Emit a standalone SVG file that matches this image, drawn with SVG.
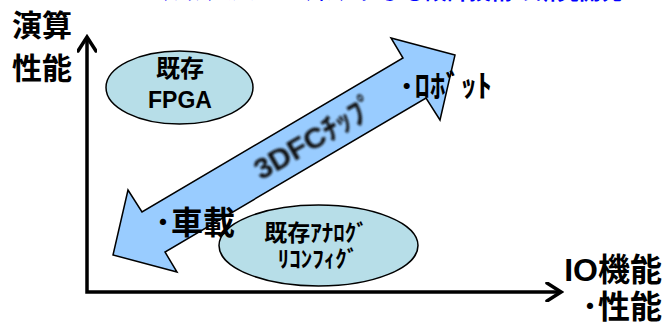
<svg xmlns="http://www.w3.org/2000/svg" width="671" height="325" viewBox="0 0 671 325">
  <defs>
    <style>
      .jp { font-family: "Liberation Sans", "Noto Sans CJK JP", sans-serif; font-weight: bold; fill: #000; }
      .ell { fill: #B7DEE8; stroke: #000; stroke-width: 1.5; }
      .axis { fill: none; stroke: #000; stroke-width: 3.5; }
      .big { fill: #99CCFF; stroke: #000; stroke-width: 1.5; stroke-linejoin: miter; }
    </style>
    <marker id="chev" viewBox="0 0 20 20" refX="17" refY="10" markerWidth="20" markerHeight="20" markerUnits="userSpaceOnUse" orient="auto-start-reverse">
      <path d="M3,1 L17,10 L3,19" fill="none" stroke="#000" stroke-width="3.5" stroke-linecap="round" stroke-linejoin="miter"/>
    </marker>
    <filter id="soft" x="-10%" y="-30%" width="120%" height="160%">
      <feGaussianBlur stdDeviation="0.8"/>
    </filter>
  </defs>

  <rect width="671" height="325" fill="#fff"/>

  <text class="jp" x="623" y="-1" text-anchor="end" font-size="22" style="fill:#0000FF">ﾌﾚｷｼﾌﾞﾙｺﾝﾋﾟｭｰﾃｨﾝｸﾞによる設計技術の研究開発</text>

  <g id="connectors">
    <path class="axis" d="M87,37 V292 H561" marker-start="url(#chev)" marker-end="url(#chev)"/>
  </g>

  <g id="axis-y-label">
    <text class="jp" x="12" y="36" font-size="30">演算</text>
    <text class="jp" x="12" y="79" font-size="30">性能</text>
  </g>

  <g id="axis-x-label">
    <text class="jp" x="662" y="281" font-size="32" text-anchor="end">IO機能</text>
    <text class="jp" x="662" y="318" font-size="32" text-anchor="end">･性能</text>
  </g>

  <g id="fpga">
    <ellipse class="ell" cx="179.5" cy="87.5" rx="73.5" ry="36.5"/>
    <text class="jp" x="180" y="77" font-size="24" text-anchor="middle">既存</text>
    <text class="jp" x="180" y="108" font-size="23" text-anchor="middle">FPGA</text>
  </g>

  <g id="analog">
    <ellipse class="ell" cx="318.5" cy="245.5" rx="99.5" ry="40.5"/>
    <text class="jp" x="316" y="241" font-size="23" text-anchor="middle">既存ｱﾅﾛｸﾞ</text>
    <text class="jp" x="318" y="267" font-size="23" text-anchor="middle">ﾘｺﾝﾌｨｸﾞ</text>
  </g>

  <g id="chip3dfc">
    <polygon class="big" points="455,55 391,38 403,58 142,212 128,190 113,255 177,272 165,252 426,98 440,120"/>
    <text class="jp" x="321" y="146" font-size="30" text-anchor="middle" transform="rotate(-30 321 146)" filter="url(#soft)" style="fill:#111">3DFCﾁｯﾌﾟ</text>
  </g>

  <g id="robot">
    <text class="jp" x="399" y="97" font-size="31">･ﾛﾎﾞｯﾄ</text>
  </g>

  <g id="vehicle">
    <text class="jp" x="155" y="234" font-size="32">･車載</text>
  </g>
</svg>
